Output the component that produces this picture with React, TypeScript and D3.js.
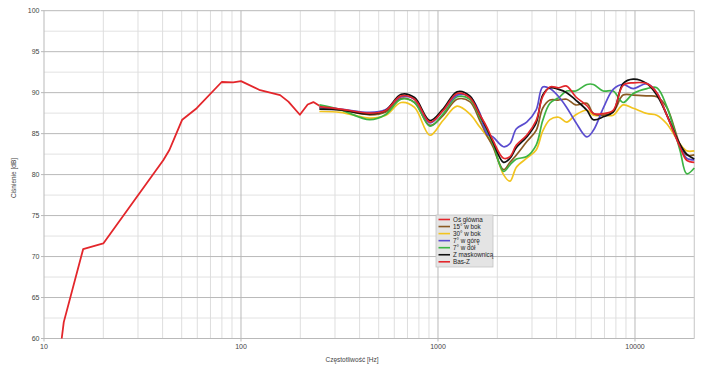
import React from "react";
import * as d3 from "d3";

const Y_TICKS = [60, 65, 70, 75, 80, 85, 90, 95, 100];
const X_TICKS = [10, 100, 1000, 10000];

// Low-frequency red curve (Bas-Z)
const BASZ_FREQ = [12.3, 12.6, 15.8, 20, 40.3, 43.3, 46.2, 50.3, 59.6, 79.8, 91.3, 100, 125, 158, 174, 199, 218, 233, 250];
const BASZ_DB = [60, 62, 70.9, 71.6, 81.75, 83, 84.6, 86.7, 88.1, 91.3, 91.25, 91.4, 90.3, 89.7, 88.9, 87.3, 88.55, 88.85, 88.4];

// Common frequency grid for the directional measurements
const FREQ = [250, 320, 450, 540, 650, 760, 910, 1060, 1250, 1450, 1630, 1770, 1900, 2150, 2320, 2500, 2820, 3150, 3400, 3700, 4100, 4500, 5000, 5700, 6150, 6900, 7750, 8700, 9800, 11500, 12900, 14500, 16900, 18300, 20000];

const OS_GLOWNA = [88.3, 88.0, 87.5, 87.8, 89.6, 89.2, 86.4, 87.8, 89.9, 89.4, 87.3, 85.8, 84.2, 82.0, 82.2, 83.6, 84.8, 86.6, 89.5, 90.7, 90.6, 90.8, 89.5, 88.4, 87.45, 87.45, 87.85, 90.9, 91.2, 91.1, 90.0, 87.25, 83.4, 81.75, 81.5];
const BOK_15 = [88.2, 87.9, 87.3, 87.6, 89.3, 88.8, 86.0, 87.2, 89.2, 88.9, 86.6, 84.8, 83.4, 80.6, 81.5, 82.4, 84.0, 85.4, 88.1, 89.1, 89.1, 89.2, 88.5, 88.7, 87.45, 87.25, 87.65, 89.7, 89.7, 89.6, 89.5, 88.2, 83.7, 82.4, 82.4];
const BOK_30 = [87.7, 87.6, 86.9, 87.2, 88.8, 88.2, 84.8, 86.6, 88.35, 87.4, 85.8, 84.7, 83.6, 80.0, 79.2, 80.9, 82.0, 83.0, 85.3, 86.7, 87.0, 86.4, 87.3, 87.85, 87.25, 87.25, 87.25, 88.5, 88.1, 87.45, 87.25, 86.2, 83.75, 82.9, 82.9];
const GORA_7 = [88.2, 88.0, 87.6, 87.9, 89.5, 89.2, 86.3, 87.8, 89.7, 89.5, 87.5, 85.0, 84.6, 83.4, 83.8, 85.6, 86.4, 87.9, 90.7, 90.5, 89.5, 88.2, 86.4, 84.6, 85.4, 88.1, 90.4, 91.0, 90.5, 91.1, 90.0, 87.25, 83.5, 82.0, 81.8];
const DOL_7 = [88.5, 87.9, 86.7, 87.3, 89.2, 88.8, 85.9, 87.4, 89.5, 89.2, 87.0, 85.3, 83.8, 80.4, 81.2, 81.9, 82.2, 83.6, 86.6, 88.7, 89.4, 90.2, 90.2, 91.0, 91.0, 90.2, 90.2, 88.8, 89.9, 90.5, 90.6, 88.3, 83.0, 80.1, 80.8];
const MASKOWNICA = [88.0, 87.9, 87.4, 87.8, 89.8, 89.4, 86.6, 88.0, 90.1, 89.6, 87.3, 85.6, 84.0, 81.5, 82.0, 83.3, 84.6, 86.3, 89.7, 90.6, 90.4, 90.0, 89.1, 87.85, 86.7, 87.05, 87.65, 91.1, 91.65, 91.1, 89.7, 87.3, 83.7, 82.5, 81.9];

const LEGEND_NAMES = ["Oś główna", "15° w bok", "30° w bok", "7° w górę", "7° w dół", "Z maskownicą", "Bas-Z"];
const COLORS = ["#e3262b", "#8a5a22", "#f2c41f", "#5a4ccf", "#3db443", "#111111", "#e3262b"];

export default function App() {
  const W = 708, H = 372;
  const x = d3.scaleLog().domain([10, 20000]).range([44, 694.3]);
  const y = d3.scaleLinear().domain([60, 100]).range([338.5, 10.7]);

  const minorX: number[] = [];
  for (const dec of [10, 100, 1000, 10000]) {
    for (let k = 2; k <= 9; k++) {
      const f = k * dec;
      if (f <= 20000) minorX.push(f);
    }
  }
  const minorY: number[] = [];
  for (let v = 62.5; v < 100; v += 5) minorY.push(v);

  const smooth = d3
    .line<[number, number]>()
    .x((d) => x(d[0]))
    .y((d) => y(d[1]))
    .curve(d3.curveCatmullRom.alpha(0.5));
  const linear = d3
    .line<[number, number]>()
    .x((d) => x(d[0]))
    .y((d) => y(d[1]));

  const zip = (fs: number[], vs: number[]) => fs.map((f, i) => [f, vs[i]] as [number, number]);

  const series = [
    { vals: BOK_30, color: COLORS[2] },
    { vals: BOK_15, color: COLORS[1] },
    { vals: DOL_7, color: COLORS[4] },
    { vals: GORA_7, color: COLORS[3] },
    { vals: MASKOWNICA, color: COLORS[5] },
    { vals: OS_GLOWNA, color: COLORS[0] },
  ];

  const font = "'Liberation Sans', Arial, sans-serif";
  const lx = 436, ly = 215, lw = 57, lh = 52, rowH = 7.05;

  return (
    <svg width={W} height={H} style={{ position: "absolute", left: 0, top: 0, background: "#fff" }} fontFamily={font}>
      <rect width={W} height={H} fill="#fff" />
      {minorY.map((v) => (
        <line key={"my" + v} x1={44} x2={694.3} y1={y(v)} y2={y(v)} stroke="#e2e2e2" strokeWidth={1} />
      ))}
      {minorX.map((f) => (
        <line key={"mx" + f} x1={x(f)} x2={x(f)} y1={y(100)} y2={y(60)} stroke="#dedede" strokeWidth={1} />
      ))}
      {Y_TICKS.map((v) => (
        <line key={"gy" + v} x1={41} x2={694.3} y1={y(v)} y2={y(v)} stroke="#b9b9b9" strokeWidth={1} />
      ))}
      {X_TICKS.map((f) => (
        <line key={"gx" + f} x1={x(f)} x2={x(f)} y1={y(100)} y2={y(60) + 3} stroke="#b9b9b9" strokeWidth={1} />
      ))}
      <line x1={694.3} x2={694.3} y1={y(100)} y2={y(60)} stroke="#cfcfcf" strokeWidth={1} />

      {Y_TICKS.map((v) => (
        <text key={"ty" + v} x={39.5} y={y(v) + 2.5} fontSize={7} fill="#444" textAnchor="end">
          {v}
        </text>
      ))}
      {X_TICKS.map((f) => (
        <text key={"tx" + f} x={x(f)} y={349} fontSize={7} fill="#444" textAnchor="middle">
          {f}
        </text>
      ))}
      <text x={352} y={362} fontSize={6.5} fill="#444" textAnchor="middle">
        Częstotliwość [Hz]
      </text>
      <text transform={`translate(15.5,178) rotate(-90)`} fontSize={6.5} fill="#444" textAnchor="middle">
        Ciśnienie [dB]
      </text>

      <path d={linear(zip(BASZ_FREQ, BASZ_DB)) || ""} fill="none" stroke={COLORS[6]} strokeWidth={1.8} strokeLinejoin="round" />
      {series.map((s, i) => (
        <path key={"s" + i} d={smooth(zip(FREQ, s.vals)) || ""} fill="none" stroke={s.color} strokeWidth={1.7} strokeLinejoin="round" />
      ))}

      <rect x={lx} y={ly} width={lw} height={lh} fill="#e4e4e4" stroke="#c4c4c4" strokeWidth={0.8} />
      {LEGEND_NAMES.map((n, i) => (
        <g key={"lg" + i}>
          <line x1={lx + 2.5} x2={lx + 14} y1={ly + 4.5 + i * rowH} y2={ly + 4.5 + i * rowH} stroke={COLORS[i]} strokeWidth={1.6} />
          <text x={lx + 17} y={ly + 4.5 + i * rowH + 2.3} fontSize={6.3} fill="#222">
            {n}
          </text>
        </g>
      ))}
    </svg>
  );
}
